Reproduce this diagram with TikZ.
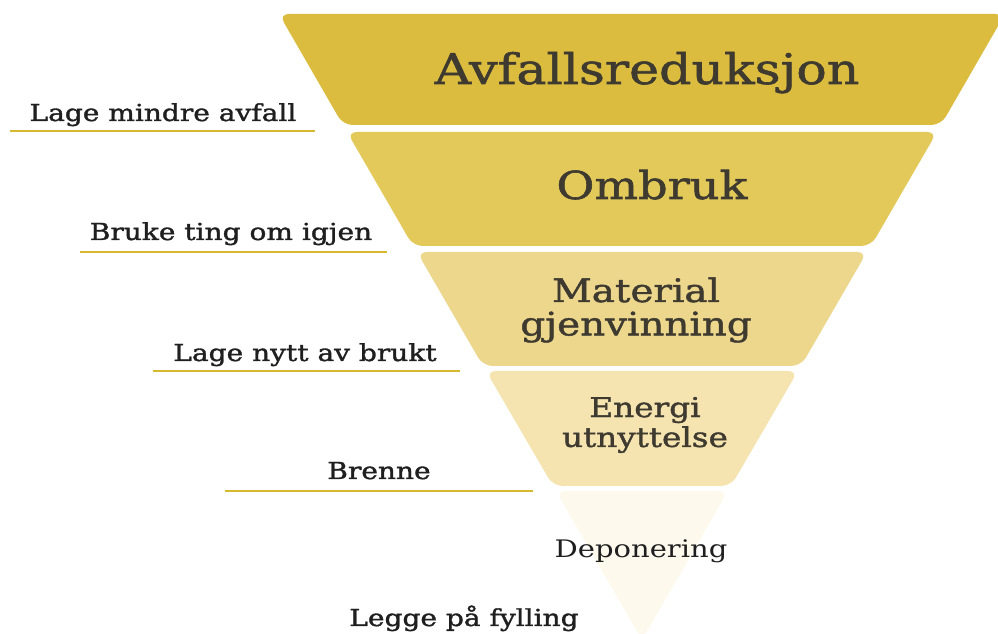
\documentclass[tikz,border=0pt]{standalone}
\usepackage{fontspec}
\setmainfont[FakeStretch=1.2]{DejaVu Serif}
\newfontfamily\heavyserif[FakeStretch=1.2, FakeBold=1.4]{DejaVu Serif}
\usetikzlibrary{positioning}

\definecolor{segone}{HTML}{DBBC3F}
\definecolor{segtwo}{HTML}{E3C95A}
\definecolor{segthree}{HTML}{EDD78D}
\definecolor{segfour}{HTML}{F5E4B0}
\definecolor{segfive}{HTML}{FDF9EC}
\definecolor{linegold}{HTML}{D8B82E}
\definecolor{segtxt}{HTML}{3E3A30}
\definecolor{lbltxt}{HTML}{1F1F1F}

\begin{document}
\begin{tikzpicture}[x=0.02cm, y=-0.02cm, inner sep=0pt]
		\tikzset{
			seg/.style={rounded corners=5.5pt},
			segtext/.style={align=center, text=segtxt},
			lbl/.style={anchor=base, text=lbltxt, font=\heavyserif\fontsize{13.3}{16}\selectfont},
			uline/.style={draw=linegold, line width=1.2pt},
		}
		\useasboundingbox (0,0) rectangle (998,634);

		% the five layers of the funnel
		\fill[seg, segone] (279,14) -- (1005,14) -- (941,125) -- (343,125) -- cycle;
		\fill[seg, segtwo] (347,132) -- (937,132) -- (871,246) -- (413,246) -- cycle;
		\fill[seg, segthree] (417,252) -- (867,252) -- (801,366) -- (483,366) -- cycle;
		\fill[seg, segfour] (486,371) -- (798,371) -- (731,486) -- (553,486) -- cycle;
		\fill[seg, segfive] (556,491) -- (728,491) -- (642,640) -- cycle;

		\node[segtext, anchor=base, font=\heavyserif\fontsize{24}{28}\selectfont] (avfall) at (647,84) {Avfallsreduksjon};
		\node[segtext, anchor=base, font=\heavyserif\fontsize{21.9}{26}\selectfont] (ombruk) at (652,199) {Ombruk};
		\node[segtext, font=\heavyserif\fontsize{18.4}{19}\selectfont] (material) at (636,310) {Material\\gjenvinning};
		\node[segtext, font=\heavyserif\fontsize{15.5}{17}\selectfont] (energi) at (645,425) {Energi\\utnyttelse};
		\node[anchor=base, text=lbltxt, font=\fontsize{13.75}{16}\selectfont] (deponi) at (641,558) {Deponering};

		% what each step means
		\node[lbl] (mindre) at (163,121) {Lage mindre avfall};
		\node[lbl] (bruke) at (231,240) {Bruke ting om igjen};
		\node[lbl] (nytt) at (305,361) {Lage nytt av brukt};
		\node[lbl] (brenne) at (379,479) {Brenne};
		\node[lbl] (legge) at (464,626) {Legge på fylling};

		\draw[uline] (10,131) -- (315,131);
		\draw[uline] (80,252) -- (387,252);
		\draw[uline] (153,371) -- (460,371);
		\draw[uline] (225,491) -- (533,491);
\end{tikzpicture}
\end{document}
